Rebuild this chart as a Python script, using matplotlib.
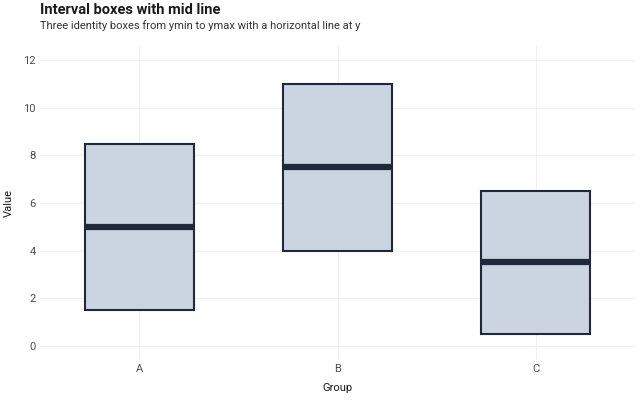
import matplotlib.pyplot as plt
from matplotlib.patches import Rectangle

plt.rcParams['font.family'] = ['Roboto', 'DejaVu Sans']

groups = ['A', 'B', 'C']
ymin = [1.5, 4.0, 0.5]
ymax = [8.5, 11.0, 6.5]
ymid = [5.0, 7.5, 3.5]

fill = '#cbd5e1'
edge = '#1e293b'
box_w = 0.55

fig = plt.figure(figsize=(6.4, 4.0), dpi=100)
ax = fig.add_axes([40 / 640, 40 / 400, 595 / 640, 314 / 400])

for i, g in enumerate(groups):
  x = i + 1
  ax.add_patch(Rectangle((x - box_w / 2, ymin[i]), box_w, ymax[i] - ymin[i],
                         facecolor=fill, edgecolor=edge, linewidth=1.5, zorder=2))
  ax.plot([x - box_w / 2, x + box_w / 2], [ymid[i], ymid[i]], color=edge,
          linewidth=4.5, solid_capstyle='butt', zorder=3)

ax.set_xlim(0.5, 3.5)
ax.set_ylim(-0.6, 12.6)
ax.set_xticks([1, 2, 3])
ax.set_xticklabels(groups)
ax.set_yticks(range(0, 13, 2))
ax.grid(True, color='#f0f0f0', linewidth=0.8, zorder=0)
ax.set_axisbelow(True)
for s in ax.spines.values():
  s.set_visible(False)
ax.tick_params(length=0, labelsize=8, labelcolor='#4d4d4d', pad=3)

ax.set_xlabel('Group', fontsize=8, color='#1a1a1a')
ax.set_ylabel('Value', fontsize=8, color='#1a1a1a')
ax.xaxis.set_label_coords(0.5, -23 / 314)
ax.yaxis.set_label_coords(-26 / 595, 0.5)

fig.text(40 / 640, 1 - 10 / 400, 'Interval boxes with mid line', fontsize=10.5,
         fontweight='bold', color='#1a1a1a', va='center', ha='left')
fig.text(40 / 640, 1 - 26 / 400,
         'Three identity boxes from ymin to ymax with a horizontal line at y',
         fontsize=8, color='#333333', va='center', ha='left')

fig.savefig('out.png', dpi=100)
